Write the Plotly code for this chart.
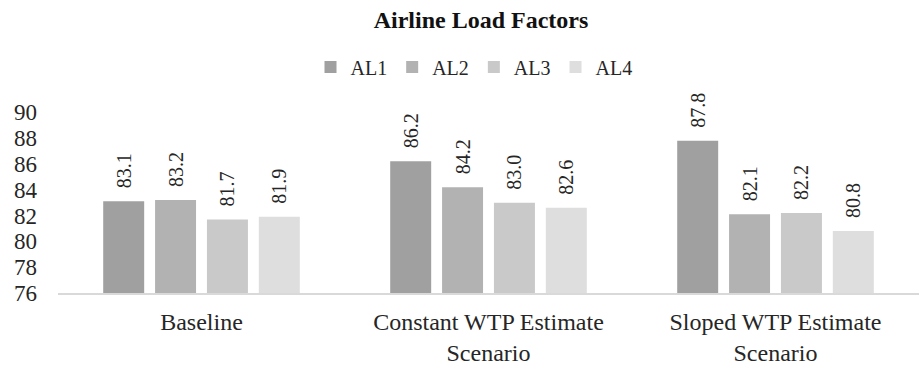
import plotly.graph_objects as go

categories = ["Baseline", "Constant WTP Estimate<br>Scenario", "Sloped WTP Estimate<br>Scenario"]
series_names = ["AL1", "AL2", "AL3", "AL4"]
al1 = [83.1, 86.2, 87.8]
al2 = [83.2, 84.2, 82.1]
al3 = [81.7, 83.0, 82.2]
al4 = [81.9, 82.6, 80.8]
y_ticks = [76, 78, 80, 82, 84, 86, 88, 90]

series_values = [al1, al2, al3, al4]
colors = ["#9fa09f", "#b2b2b2", "#c8c9c8", "#dddedd"]
FONT = "Liberation Serif"
NB = "\u00a0\u00a0"

fig = go.Figure()
for name, vals, col in zip(series_names, series_values, colors):
    fig.add_trace(go.Bar(
        name=name, x=categories, y=vals,
        marker=dict(color=col, line=dict(width=0)),
        text=[NB + f"{v:.1f}" for v in vals],
        textposition="outside", textangle=-90, constraintext="none",
        textfont=dict(family=FONT, size=20, color="#262626"),
    ))

fig.update_layout(
    width=919, height=366,
    margin=dict(l=58, r=0, t=81, b=69),
    paper_bgcolor="white", plot_bgcolor="white",
    barmode="group", bargap=0.277, bargroupgap=0.21,
    font=dict(family=FONT, color="#262626"),
    title=dict(text="<b>Airline Load Factors</b>", x=481/919, xref="container", xanchor="center",
               y=1 - 20/366, yref="container", yanchor="middle",
               font=dict(family=FONT, size=24, color="#111111")),
    legend=dict(orientation="h", x=474/919, xref="container", xanchor="center",
                y=1 - 67/366, yref="container", yanchor="middle",
                font=dict(family=FONT, size=20, color="#262626"), itemwidth=30,
                traceorder="normal"),
    showlegend=True,
)
fig.update_xaxes(showline=True, linecolor="#d9d9d9", linewidth=1.5, showgrid=False,
                 ticks="", tickfont=dict(family=FONT, size=24, color="#262626"),
                 ticklabelstandoff=6)
fig.update_yaxes(range=[76, 92], tickvals=y_ticks, showgrid=False, zeroline=False,
                 showline=False, ticks="", tickfont=dict(family=FONT, size=23, color="#262626"),
                 ticklabelstandoff=20)

fig.write_html("out.html", config={"displayModeBar": False},
               post_script="document.body.style.margin='0';")
